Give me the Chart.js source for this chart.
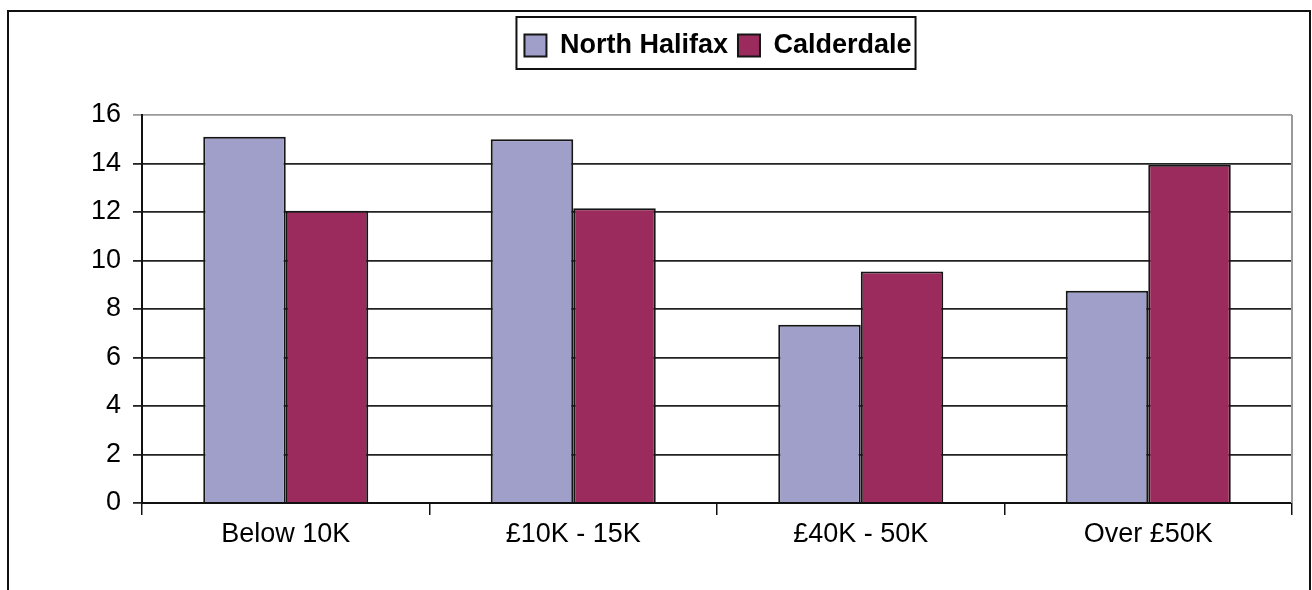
<!DOCTYPE html>
<html>
<head>
<meta charset="utf-8">
<script src="https://cdn.jsdelivr.net/npm/chart.js@4/dist/chart.umd.min.js"></script>
<style>
  html, body { margin: 0; padding: 0; background: #fff; }
  #wrap { width: 1312px; height: 590px; }
</style>
</head>
<body>
<div id="wrap"><canvas id="myChart" width="1312" height="590"></canvas></div>
<script>
const categories = ['Below 10K', '£10K - 15K', '£40K - 50K', 'Over £50K'];
const northHalifax = [15.1, 15.0, 7.35, 8.75];
const calderdale = [12.05, 12.15, 9.55, 13.95];
const yMin = 0;
const yMax = 16;
const yStep = 2;

const FONT = "'Liberation Sans', Arial, Helvetica, sans-serif";

// frame round the whole chart, box round the legend, grey edge on the right of the plot
const decor = {
    id: 'decor',
    beforeUpdate(chart) {
        const lg = chart.legend;
        if (lg && !lg._patched) {
            const fit = lg.fit.bind(lg);
            lg.fit = function () { fit(); this.height = 93; };
            lg._patched = true;
        }
    },
    afterLayout(chart) {
        const lg = chart.legend;
        lg.left += 72;
        lg.right += 72;
    },
    afterDraw(chart) {
        const c = chart.ctx;
        const a = chart.chartArea;
        c.save();
        // plot edge (right)
        c.strokeStyle = '#9a9a9a';
        c.lineWidth = 2;
        c.beginPath();
        c.moveTo(a.right, a.top);
        c.lineTo(a.right, a.bottom);
        c.stroke();
        // legend box
        const hb = chart.legend.legendHitBoxes;
        if (hb && hb.length) {
            const first = hb[0];
            const last = hb[hb.length - 1];
            const x0 = first.left - 8;
            const x1 = last.left + last.width + 4;
            const y0 = first.top - 15;
            const y1 = first.top + first.height + 10;
            c.strokeStyle = '#111';
            c.lineWidth = 2;
            c.strokeRect(x0, y0, x1 - x0, y1 - y0);
        }
        // outer frame
        c.strokeStyle = '#111';
        c.lineWidth = 2;
        c.strokeRect(8, 11, 1302, 700);
        c.restore();
    }
};

const ctx = document.getElementById('myChart');

new Chart(ctx, {
    type: 'bar',
    data: {
        labels: categories,
        datasets: [{
            label: 'North Halifax',
            data: northHalifax,
            backgroundColor: '#a09fca',
            borderColor: '#151515',
            borderWidth: 2
        },
        {
            label: 'Calderdale',
            data: calderdale,
            backgroundColor: '#9b2b5c',
            borderColor: '#151515',
            borderWidth: 2
        }]
    },
    options: {
        responsive: false,
        animation: false,
        barPercentage: 1,
        categoryPercentage: 0.574,
        layout: {
            padding: { top: 22, left: 0, right: 20, bottom: 0 }
        },
        plugins: {
            tooltip: { enabled: false },
            legend: {
                position: 'top',
                labels: {
                    color: '#000',
                    boxWidth: 22,
                    boxHeight: 22,
                    padding: 10,
                    font: { family: FONT, size: 27, weight: 'bold' }
                }
            }
        },
        scales: {
            x: {
                afterFit(scale) { scale.height = 87; },
                border: { display: true, color: '#111', width: 2 },
                grid: {
                    offset: true,
                    drawOnChartArea: false,
                    drawTicks: true,
                    tickLength: 12,
                    color: '#111',
                    lineWidth: 1.5
                },
                ticks: {
                    color: '#000',
                    padding: 3,
                    maxRotation: 0,
                    font: { family: FONT, size: 27 }
                }
            },
            y: {
                min: yMin,
                max: yMax,
                afterFit(scale) { scale.width = 142; },
                border: { display: true, color: '#111', width: 2 },
                grid: {
                    color: (c) => (c.tick && c.tick.value === yMax ? '#9a9a9a' : '#222'),
                    lineWidth: 1.8,
                    tickLength: 9
                },
                ticks: {
                    stepSize: yStep,
                    color: '#000',
                    padding: 12,
                    font: { family: FONT, size: 27 }
                }
            }
        }
    },
    plugins: [decor]
});
</script>
</body>
</html>
